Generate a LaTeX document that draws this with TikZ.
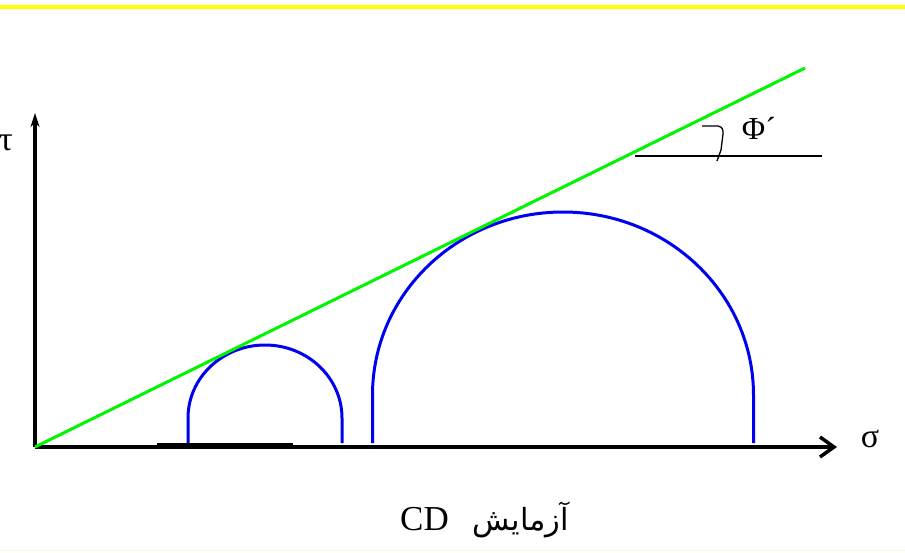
\documentclass[tikz,border=0pt]{standalone}
\usepackage{fontspec}
\setmainfont{Liberation Serif}
\newfontfamily\arabicfont[Script=Arabic]{DejaVu Sans}
\TeXXeTstate=1
\usetikzlibrary{arrows.meta}
\definecolor{lgreen}{RGB}{0,245,0}
\definecolor{pblue}{RGB}{0,0,240}
\definecolor{pyellow}{RGB}{255,255,0}
\begin{document}
\begin{tikzpicture}[x=1pt,y=-1pt,
  axis/.style={line width=3.5pt,black},
  envelope/.style={line width=3pt,lgreen},
  mohr/.style={line width=3pt,pblue},
  thin/.style={line width=1.3pt,black},
  lbl/.style={inner sep=0pt,font=\fontsize{34}{36}\selectfont}]
\useasboundingbox (0,0) rectangle (905,552);
\fill[white] (0,0) rectangle (905,552);
\draw[pyellow, line width=4pt] (0,6.5) -- (905,6.5);
\draw[pyellow!25, line width=1pt] (0,550.5) -- (905,550.5);
% axes
\coordinate (O) at (35,447);
\coordinate (ytop) at (35,113);
\coordinate (xend) at (837,447);
\draw[axis, -{Stealth[length=14pt,width=9pt]}] (O) -- (ytop);
\draw[axis, -{Straight Barb[length=14pt,width=20pt]}] (O) -- (xend);
\coordinate (s1) at (157,446);
\coordinate (s2) at (293,446);
\draw[line width=6pt] (s1) -- (s2);
% Mohr circles
\draw[mohr] (188,443) -- (188,418) arc[start angle=180,end angle=360,x radius=77,y radius=73] -- (342,443);
\draw[mohr] (372.5,443) -- (372.5,395) arc[start angle=180,end angle=360,x radius=190.5,y radius=183] -- (753.5,443);
% envelope
\coordinate (E) at (805,68);
\draw[envelope] (O) -- (E);
% angle
\coordinate (h1) at (635,156);
\coordinate (h2) at (822,156);
\draw[thin] (h1) -- (h2);
\draw[thin] (702,126) -- (718,126) .. controls (723,127) and (723,130) .. (723,134) -- (721,150) -- (717,161);
\node[inner sep=0pt,font=\fontsize{32}{34}\selectfont] (phi) at (759,128) {Φ´};
% labels
\node[lbl,anchor=east] (tau) at (13,143) {τ};
\node[lbl] (sigma) at (870,439) {σ};
\node[inner sep=0pt,anchor=base west,font=\fontsize{35}{38}\selectfont] (cap) at (400,530) {CD\hspace{24pt}{\arabicfont\fontsize{30.5}{34}\selectfont\beginR آزمایش\endR}};
\end{tikzpicture}
\end{document}
